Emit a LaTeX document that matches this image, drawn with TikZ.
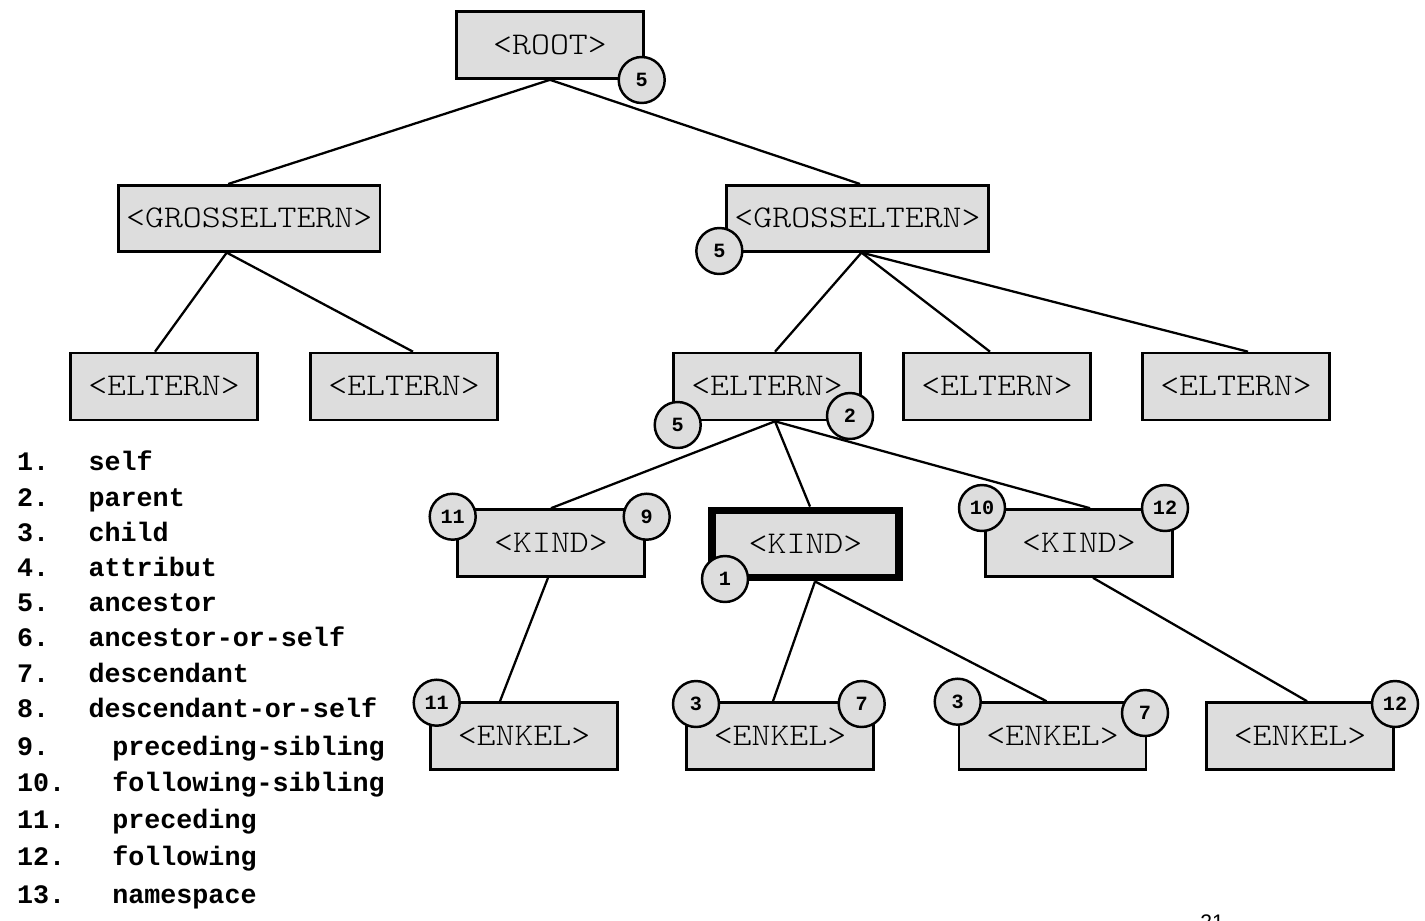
\documentclass[tikz,border=0pt]{standalone}
\usepackage{fontspec}
\usetikzlibrary{calc}
\newfontfamily\boxfont{lmmonolt10-regular.otf}[FakeStretch=1.14]
\newfontfamily\axisfont{Liberation Mono}
\newfontfamily\pagefont{Liberation Sans}
\definecolor{boxgray}{HTML}{DDDDDD}
\begin{document}
\begin{tikzpicture}[x=0.02cm,y=-0.02cm,
  tbox/.style={draw, line width=1.5pt, fill=boxgray, inner sep=0pt,
    minimum width=3.74cm, minimum height=1.34cm,
    font=\boxfont\fontsize{18}{20}\selectfont},
  widebox/.style={tbox, minimum width=5.24cm, minimum height=1.32cm},
  selfbox/.style={tbox, line width=4.5pt},
  edge/.style={line width=1.3pt},
  axis/.style={draw, circle, line width=1.4pt, fill=boxgray, inner sep=0pt,
    minimum size=0.92cm, font=\axisfont\bfseries\fontsize{11.5}{13}\selectfont},
  legend/.style={inner sep=0pt, anchor=base west,
    font=\axisfont\bfseries\fontsize{15.2}{17}\selectfont}]
\useasboundingbox (0,0) rectangle (1425,920);

% element boxes
\node[tbox]    (root) at (550,45)     {<ROOT>};
\node[widebox] (gl)   at (249.2,218.3) {<GROSSELTERN>};
\node[widebox] (gr)   at (857.5,218.3) {<GROSSELTERN>};
\node[tbox]    (e1)   at (164,386.5)  {<ELTERN>};
\node[tbox]    (e2)   at (404,386.5)  {<ELTERN>};
\node[tbox]    (e3)   at (767,386.5)  {<ELTERN>};
\node[tbox]    (e4)   at (997,386.5)  {<ELTERN>};
\node[tbox]    (e5)   at (1236,386.5) {<ELTERN>};
\node[tbox]    (k1)   at (551,543)    {<KIND>};
\node[selfbox] (k2)   at (805.5,544)  {<KIND>};
\node[tbox]    (k3)   at (1079,543)   {<KIND>};
\node[tbox]    (n1)   at (524,736)    {<ENKEL>};
\node[tbox]    (n2)   at (780,736)    {<ENKEL>};
\node[tbox]    (n3)   at (1052.5,736) {<ENKEL>};
\node[tbox]    (n4)   at (1300,736)   {<ENKEL>};

% tree edges
\draw[edge] (root.south) -- ($(gl.north)+(-21,0)$);
\draw[edge] (root.south) -- ($(gr.north)+(2.5,0)$);
\draw[edge] ($(gl.south)+(-22.5,0)$) -- ($(e1.north)+(-9,0)$);
\draw[edge] ($(gl.south)+(-22.5,0)$) -- ($(e2.north)+(9,0)$);
\draw[edge] ($(gr.south)+(4,0)$) -- ($(e3.north)+(8,0)$);
\draw[edge] ($(gr.south)+(4,0)$) -- ($(e4.north)+(-7,0)$);
\draw[edge] ($(gr.south)+(4,0)$) -- ($(e5.north)+(12,0)$);
\draw[edge] ($(e3.south)+(8,0)$) -- (k1.north);
\draw[edge] ($(e3.south)+(8,0)$) -- ($(k2.north)+(4.5,0)$);
\draw[edge] ($(e3.south)+(8,0)$) -- ($(k3.north)+(11,0)$);
\draw[edge] ($(k1.south)+(-3,0)$) -- ($(n1.north)+(-24,0)$);
\draw[edge] ($(k2.south)+(9.5,0)$) -- ($(n2.north)+(-7,0)$);
\draw[edge] ($(k2.south)+(9.5,0)$) -- ($(n3.north)+(-6,0)$);
\draw[edge] ($(k3.south)+(14,0)$) -- ($(n4.north)+(7,0)$);

% axis markers
\node[axis] (aroot) at (641.7,80)    {5};
\node[axis] (agr)   at (719.3,251)   {5};
\node[axis] (ae3a)  at (677.7,425)   {5};
\node[axis] (ae3b)  at (850,416)     {2};
\node[axis] (ak1a)  at (452.7,516.7) {11};
\node[axis] (ak1b)  at (646.7,516.7) {9};
\node[axis] (ak2)   at (725,579)     {1};
\node[axis] (ak3a)  at (982,508)     {10};
\node[axis] (ak3b)  at (1165,508)    {12};
\node[axis] (an1)   at (436.7,702.7) {11};
\node[axis] (an2a)  at (696,704)     {3};
\node[axis] (an2b)  at (861.7,704)   {7};
\node[axis] (an3a)  at (957.7,701.7) {3};
\node[axis] (an3b)  at (1145,713)    {7};
\node[axis] (an4)   at (1395,704)    {12};

% list of axes
\foreach \i/\txt/\yb/\xt in {
  1/self/470.7/88.3, 2/parent/506.7/88.3, 3/child/541.5/88.3,
  4/attribut/576.7/88.3, 5/ancestor/611.7/88.3,
  6/ancestor-or-self/646.7/88.3, 7/descendant/682.5/88.3,
  8/descendant-or-self/717.7/88.3, 9/preceding-sibling/755/112,
  10/following-sibling/791.7/112, 11/preceding/828.3/112,
  12/following/865/112, 13/namespace/903.3/112} {
  \node[legend] (num\i) at (16.7,\yb) {\i.};
  \node[legend] (ax\i)  at (\xt,\yb) {\txt};
}

% page number, running off the lower edge
\node[inner sep=0pt, anchor=north west, font=\pagefont\fontsize{12}{14}\selectfont]
  (page) at (1200,914) {21};
\end{tikzpicture}
\end{document}
